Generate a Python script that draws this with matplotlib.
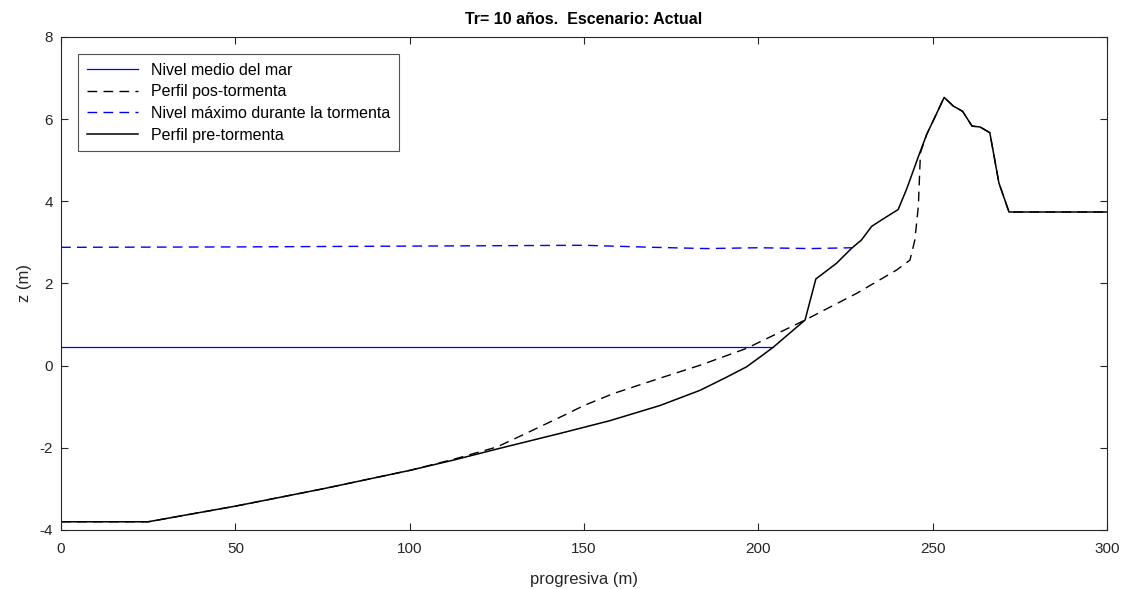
import numpy as np
import matplotlib.pyplot as plt

plt.rcParams['font.family'] = ['Liberation Sans', 'DejaVu Sans']
plt.rcParams['axes.unicode_minus'] = False

# perfil pre-tormenta (m)
x_pre = [0, 25, 50, 75, 100, 113, 125, 143.1, 157.4, 171.8, 183.3, 190.9, 196.6, 200.5, 204.3,
         213.4, 216.5, 222.4, 226.8, 229.6, 232.5, 235.4, 240.1, 242.5, 246.3, 248.3, 250.6,
         253.3, 255.9, 258.6, 261.3, 263.6, 266.4, 269.0, 271.9, 300]
z_pre = [-3.8, -3.8, -3.42, -3.0, -2.55, -2.29, -2.03, -1.65, -1.34, -0.97, -0.60, -0.28, -0.03,
         0.21, 0.45, 1.11, 2.11, 2.49, 2.86, 3.06, 3.39, 3.55, 3.80, 4.29, 5.18, 5.63, 6.04,
         6.53, 6.32, 6.19, 5.83, 5.81, 5.67, 4.45, 3.74, 3.74]

# perfil pos-tormenta (m)
x_pos = [0, 25, 50, 75, 100, 113, 125, 132.6, 144, 150, 158.4, 172.7, 183.3, 196.6, 213.4,
         228.2, 239.7, 243.5, 244.9, 245.9, 246.5, 248.3, 250.6, 253.3, 255.9, 258.6,
         261.3, 263.6, 266.4, 269.0, 271.9, 300]
z_pos = [-3.8, -3.8, -3.42, -3.0, -2.55, -2.27, -1.98, -1.68, -1.22, -0.97, -0.68, -0.28, 0.01,
         0.42, 1.11, 1.76, 2.33, 2.57, 3.06, 3.88, 5.18, 5.63, 6.04, 6.53, 6.32, 6.19,
         5.83, 5.81, 5.67, 4.45, 3.74, 3.74]

# nivel medio del mar
x_nmm = [0, 204.3]
z_nmm = [0.45, 0.45]

# nivel maximo durante la tormenta
x_max = [0, 50, 100, 150, 170, 185, 200, 215, 227]
z_max = [2.88, 2.89, 2.91, 2.93, 2.88, 2.85, 2.87, 2.85, 2.87]

fig = plt.figure(figsize=(11.26, 5.89), dpi=100)
ax = fig.add_axes([0.0542, 0.1002, 0.9289, 0.8370])

ax.plot(x_nmm, z_nmm, '-', color='#0000ff', lw=0.9, label='Nivel medio del mar')
ax.plot(x_pos, z_pos, '--', color='k', lw=1.0, dashes=(7, 4.5), label='Perfil pos-tormenta')
ax.plot(x_max, z_max, '--', color='#0000ff', lw=1.0, dashes=(7, 4.5),
        label='Nivel máximo durante la tormenta')
ax.plot(x_pre, z_pre, '-', color='k', lw=1.1, label='Perfil pre-tormenta')

ax.set_xlim(0, 300)
ax.set_ylim(-4, 8)
ax.set_xticks(np.arange(0, 301, 50))
ax.set_yticks(np.arange(-4, 9, 2))
ax.tick_params(direction='in', top=True, right=True, labelsize=11,
               colors='#262626', length=5)
ax.tick_params(axis='x', pad=9)
ax.tick_params(axis='y', pad=6)
for s in ax.spines.values():
    s.set_color('#262626')
    s.set_linewidth(0.8)

ax.set_xlabel('progresiva (m)', fontsize=12, color='#262626', labelpad=11)
ax.set_ylabel('z (m)', fontsize=12, color='#262626', labelpad=5)
ax.set_title('Tr= 10 años.  Escenario: Actual', fontsize=11.5, fontweight='bold', pad=9)

leg = ax.legend(loc='upper left', bbox_to_anchor=(0.0163, 0.966), fontsize=11.5,
                frameon=True, fancybox=False, handlelength=3.2, borderpad=0.55,
                labelspacing=0.42, handletextpad=0.8, borderaxespad=0)
leg.get_frame().set_edgecolor('#262626')
leg.get_frame().set_linewidth(0.8)

fig.savefig('out.png', dpi=100)
